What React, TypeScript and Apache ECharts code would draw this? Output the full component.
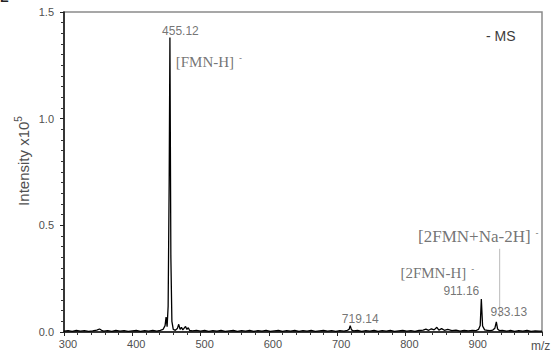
import React, { useEffect, useRef } from "react";
import * as echarts from "echarts";

// m/z values and relative intensities (x10^5) of the spectrum trace
const mzValues: number[] = [
  300, 306, 312, 318, 324, 330, 336, 342, 348, 352, 355, 358, 364, 370, 376, 382, 388, 394,
  400, 406, 412, 418, 424, 430, 436, 441, 445, 448, 449.5, 451, 452.5, 454, 455.12, 456.5,
  458, 460, 463, 466, 468, 470, 472, 474, 476, 478, 480, 482, 484, 488, 494, 500, 506, 512,
  518, 524, 530, 536, 542, 548, 554, 560, 566, 572, 578, 584, 590, 596, 602, 608, 614, 620,
  626, 632, 638, 644, 650, 656, 662, 668, 674, 680, 686, 692, 698, 704, 710, 715, 717.5,
  719.14, 721, 724, 730, 736, 742, 748, 754, 760, 766, 772, 778, 784, 790, 796, 802, 808,
  814, 820, 826, 830, 834, 838, 842, 846, 849, 853, 857, 862, 868, 874, 880, 886, 892, 898,
  903, 907, 909.5, 911.16, 913, 916, 920, 924, 928, 931, 933.13, 935, 938, 942, 948, 954,
  960, 966, 972, 978, 984, 990, 996, 1000,
];
const intensities: number[] = [
  0.004, 0.006, 0.003, 0.007, 0.004, 0.006, 0.003, 0.005, 0.009, 0.014, 0.008, 0.004, 0.006, 0.003, 0.007, 0.004, 0.006, 0.003,
  0.005, 0.007, 0.003, 0.006, 0.004, 0.007, 0.004, 0.008, 0.012, 0.03, 0.07, 0.025, 0.12, 0.7, 1.38, 0.35,
  0.05, 0.012, 0.008, 0.016, 0.036, 0.012, 0.022, 0.01, 0.018, 0.026, 0.012, 0.02, 0.007, 0.005, 0.008, 0.004, 0.007, 0.003,
  0.006, 0.004, 0.007, 0.003, 0.005, 0.007, 0.003, 0.006, 0.004, 0.007, 0.003, 0.006, 0.004, 0.008, 0.003, 0.005, 0.007, 0.003,
  0.006, 0.004, 0.007, 0.003, 0.006, 0.004, 0.007, 0.003, 0.005, 0.007, 0.004, 0.006, 0.003, 0.006, 0.004, 0.008, 0.012,
  0.03, 0.01, 0.005, 0.007, 0.003, 0.006, 0.004, 0.007, 0.003, 0.006, 0.004, 0.007, 0.003, 0.005, 0.007, 0.004, 0.006,
  0.003, 0.007, 0.009, 0.013, 0.008, 0.015, 0.01, 0.022, 0.009, 0.016, 0.008, 0.012, 0.006, 0.009, 0.004, 0.007, 0.005, 0.008,
  0.006, 0.012, 0.03, 0.155, 0.028, 0.01, 0.008, 0.006, 0.009, 0.018, 0.047, 0.014, 0.006, 0.008, 0.004, 0.007,
  0.003, 0.006, 0.004, 0.007, 0.003, 0.005, 0.004, 0.004,
];

// annotated peaks
const peakMz: number[] = [455.12, 719.14, 911.16, 933.13];
const peakIntensity: number[] = [1.38, 0.03, 0.155, 0.047];

// ion assignments (anchored at their peaks)
const ionLabels: string[] = ["[FMN-H]", "[2FMN-H]", "[2FMN+Na-2H]"];
const ionPeakIndex: number[] = [0, 2, 3];

// axis ticks
const xTicks: number[] = [300, 400, 500, 600, 700, 800, 900, 1000];
const yTicks: number[] = [0, 0.5, 1.0, 1.5];

// leader line for [2FMN+Na-2H]-
const leaderMz: number[] = [938, 938];
const leaderIntensity: number[] = [0.07, 0.39];

const SANS = "'Liberation Sans', Arial, sans-serif";
const SERIF = "'Liberation Serif', 'Times New Roman', serif";
const TEXT = "#505050";

export default function App() {
  const ref = useRef<HTMLDivElement>(null);

  useEffect(() => {
    if (!ref.current) return;
    const chart = echarts.init(ref.current, undefined, { renderer: "svg" });

    const peakOffsets: number[][] = [
      [10.5, -7],
      [10, -7],
      [-20, -8],
      [12.5, -10],
    ];
    const ionOffsets: number[][] = [
      [39, 24],
      [-44, -26],
      [-18, -85],
    ];
    const ionSizes: number[] = [15, 15, 17];

    chart.setOption({
      animation: false,
      grid: {
        left: 64,
        right: 14,
        top: 12,
        bottom: 22,
        show: true,
        borderColor: "#8a8a8a",
        borderWidth: 1.5,
        backgroundColor: "transparent",
      },
      xAxis: {
        type: "value",
        min: xTicks[0],
        max: xTicks[xTicks.length - 1],
        interval: 100,
        splitLine: { show: false },
        axisLine: { lineStyle: { color: "#111", width: 1.5 } },
        axisTick: { show: true, length: 4, lineStyle: { color: "#222" } },
        minorTick: { show: true, splitNumber: 5, length: 3, lineStyle: { color: "#333" } },
        axisLabel: {
          color: TEXT,
          fontFamily: SANS,
          fontSize: 11,
          margin: 6,
          padding: [0, 0, 0, 8],
          formatter: (v: number) => (v >= 1000 ? "" : String(v)),
        },
      },
      yAxis: {
        type: "value",
        min: yTicks[0],
        max: yTicks[yTicks.length - 1],
        interval: 0.5,
        splitLine: { show: false },
        axisLine: { show: true, lineStyle: { color: "#111", width: 1.5 } },
        axisTick: { show: true, length: 4, lineStyle: { color: "#222" } },
        minorTick: { show: true, splitNumber: 10, length: 3, lineStyle: { color: "#333" } },
        axisLabel: {
          color: TEXT,
          fontFamily: SANS,
          fontSize: 11,
          margin: 10,
          formatter: (v: number) => v.toFixed(1),
        },
      },
      series: [
        {
          type: "line",
          data: mzValues.map((m, i) => [m, intensities[i]]),
          symbol: "none",
          lineStyle: { color: "#000", width: 1.3 },
          z: 3,
        },
        {
          type: "line",
          data: leaderMz.map((m, i) => [m, leaderIntensity[i]]),
          symbol: "none",
          lineStyle: { color: "#aaa", width: 0.8 },
          z: 2,
        },
        {
          type: "scatter",
          symbolSize: 0,
          data: peakMz.map((m, i) => ({
            value: [m, peakIntensity[i]],
            label: { offset: peakOffsets[i] },
          })),
          label: {
            show: true,
            position: "inside",
            color: TEXT,
            fontFamily: SANS,
            fontSize: 12,
            formatter: (p: any) => p.value[0].toFixed(2),
          },
          z: 4,
        },
        {
          type: "scatter",
          symbolSize: 0,
          data: ionLabels.map((t, i) => ({
            value: [peakMz[ionPeakIndex[i]], peakIntensity[ionPeakIndex[i]]],
            name: t,
            label: {
              offset: ionOffsets[i],
              rich: {
                main: { fontFamily: SERIF, fontSize: ionSizes[i], color: TEXT },
                sup: { fontFamily: SANS, fontSize: 9, color: TEXT, verticalAlign: "top", padding: [0, 0, 8, 0] },
              },
            },
          })),
          label: {
            show: true,
            position: "inside",
            formatter: (p: any) => `{main|${p.name}}{sup|  -}`,
          },
          z: 4,
        },
      ],
      graphic: [
        {
          type: "text",
          x: 23,
          y: 161,
          rotation: Math.PI / 2,
          style: {
            text: "{a|Intensity x10}{b|5}",
            align: "center",
            verticalAlign: "middle",
            rich: {
              a: { fontFamily: SANS, fontSize: 15, fill: TEXT },
              b: { fontFamily: SANS, fontSize: 10, fill: TEXT, padding: [0, 0, 9, 0] },
            },
          },
        },
        {
          type: "text",
          x: 486,
          y: 36,
          style: {
            text: "- MS",
            fontFamily: SANS,
            fontSize: 14,
            fill: "#3c3c3c",
            verticalAlign: "middle",
          },
        },
        {
          type: "text",
          x: 531,
          y: 346,
          style: {
            text: "m/z",
            fontFamily: SANS,
            fontSize: 12,
            fill: TEXT,
            verticalAlign: "middle",
          },
        },
        {
          type: "text",
          x: 0,
          y: -9,
          style: {
            text: "E",
            fontFamily: SANS,
            fontSize: 13,
            fontWeight: "bold",
            fill: "#222",
          },
        },
      ],
    });

    return () => chart.dispose();
  }, []);

  return (
    <div
      ref={ref}
      style={{ position: "fixed", left: 0, top: 0, width: 556, height: 354, background: "#fff" }}
    />
  );
}
